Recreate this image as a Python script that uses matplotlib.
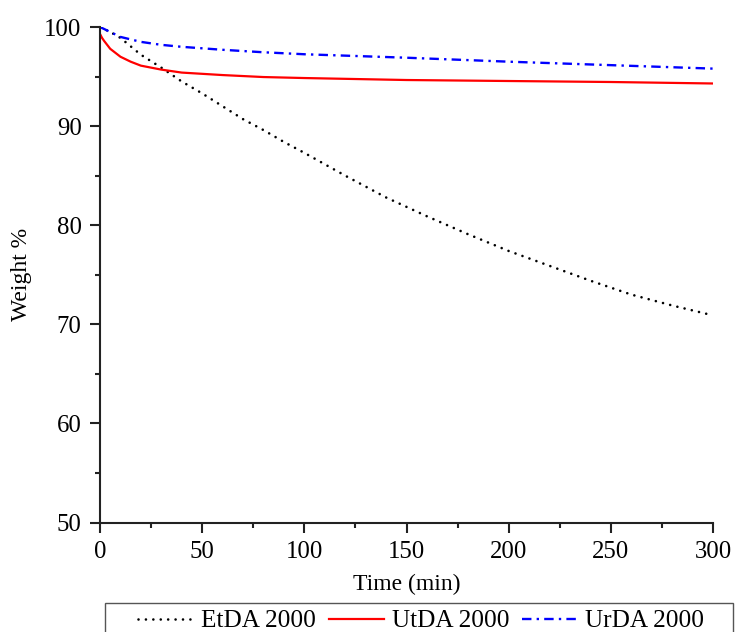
import matplotlib
matplotlib.use("Agg")
import matplotlib.pyplot as plt
from matplotlib.patches import Rectangle
from matplotlib.ticker import MultipleLocator

# Data
etda_t = [0, 5, 10, 20, 30, 40, 50, 60, 70, 80, 90, 100, 120, 140, 160, 180, 200, 220, 240, 260, 280, 300]
etda_w = [100, 99.5, 98.9, 97.2, 95.9, 94.5, 93.3, 92.0, 90.7, 89.6, 88.4, 87.3, 85.0, 82.8, 80.9, 79.1, 77.4, 75.9, 74.4, 73.0, 71.9, 70.9]

utda_t = [0, 1, 2, 5, 10, 15, 20, 30, 40, 60, 80, 100, 150, 200, 250, 300]
utda_w = [99.3, 98.9, 98.6, 97.8, 97.0, 96.5, 96.1, 95.7, 95.4, 95.15, 94.95, 94.85, 94.65, 94.55, 94.45, 94.3]

urda_t = [0, 5, 10, 20, 30, 40, 60, 80, 100, 150, 200, 250, 300]
urda_w = [100, 99.5, 99.0, 98.5, 98.2, 98.0, 97.7, 97.45, 97.25, 96.9, 96.5, 96.15, 95.8]

labels = ["EtDA 2000", "UtDA 2000", "UrDA 2000"]
x_label = "Time (min)"
y_label = "Weight %"

plt.rcParams['font.family'] = ['Liberation Serif', 'DejaVu Serif']

W, H = 735, 632
fig = plt.figure(figsize=(W / 100, H / 100), dpi=100)
ax = fig.add_axes([100 / W, 1 - 522.5 / H, 613 / W, 495.5 / H])

l1, = ax.plot(etda_t, etda_w, color='black', lw=1.9, linestyle=(0, (0.01, 2.8)),
              dash_capstyle='round', label=labels[0])
l2, = ax.plot(utda_t, utda_w, color='#ff0000', lw=1.6, label=labels[1])
l3, = ax.plot(urda_t, urda_w, color='#0000ff', lw=1.7, linestyle=(0, (4, 2.2, 1, 2.2)),
              label=labels[2])

ax.set_xlim(0, 300)
ax.set_ylim(50, 100)
ax.xaxis.set_major_locator(MultipleLocator(50))
ax.xaxis.set_minor_locator(MultipleLocator(25))
ax.yaxis.set_major_locator(MultipleLocator(10))
ax.yaxis.set_minor_locator(MultipleLocator(5))

for s in ['top', 'right']:
    ax.spines[s].set_visible(False)
for s in ['left', 'bottom']:
    ax.spines[s].set_linewidth(1.5)
    ax.spines[s].set_color('#222222')

ax.tick_params(which='major', direction='out', length=7.2, width=1.5, labelsize=17.8, pad=6, color='#222222')
ax.tick_params(which='minor', direction='out', length=3.6, width=1.5, color='#222222')

ax.set_xlabel(x_label, fontsize=17, labelpad=8)
ax.set_ylabel(y_label, fontsize=17, labelpad=9)

# legend frame (bottom edge falls outside the figure in the reference)
rect = Rectangle((105 / W, -0.05), (733 - 105) / W, (H - 603) / H + 0.05,
                 transform=fig.transFigure, facecolor='white', edgecolor='#555555', lw=1.0)
fig.patches.append(rect)

fig.legend(handles=[l1, l2, l3], labels=labels, ncol=3, frameon=False,
           loc='center left', bbox_to_anchor=(138 / W, 1 - 621 / H),
           borderpad=0, borderaxespad=0, fontsize=18.2,
           handlelength=2.2, handletextpad=0.3, columnspacing=0.5)

fig.savefig("out.png", dpi=100)
